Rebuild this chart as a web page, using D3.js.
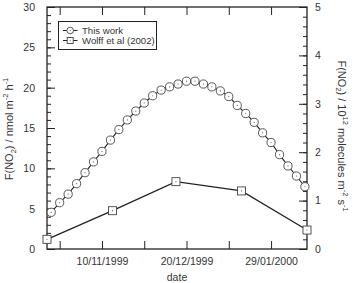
<!DOCTYPE html>
<html><head><meta charset="utf-8">
<script src="https://cdn.jsdelivr.net/npm/d3@7"></script>
<style>
html,body{margin:0;padding:0;background:#fff;}
svg{display:block;font-family:"Liberation Sans",Arial,sans-serif;}
</style></head>
<body><div id="chart"></div>
<script>
const thisWorkDates = ["1999-10-17","1999-10-21","1999-10-25","1999-10-29","1999-11-02","1999-11-06","1999-11-10","1999-11-14","1999-11-18","1999-11-22","1999-11-26","1999-11-30","1999-12-04","1999-12-08","1999-12-12","1999-12-16","1999-12-20","1999-12-24","1999-12-28","2000-01-01","2000-01-05","2000-01-09","2000-01-13","2000-01-17","2000-01-21","2000-01-25","2000-01-29","2000-02-02","2000-02-06","2000-02-10","2000-02-14"];
const thisWorkValues = [4.55,5.74,6.8,8.1,9.46,10.8,12.1,13.5,14.8,16.0,17.1,18.1,19.0,19.7,20.1,20.45,20.8,20.8,20.45,20.1,19.6,18.9,17.8,16.8,15.7,14.4,13.2,11.7,10.3,9.05,7.72];
const wolffDates = ["1999-10-15","1999-11-15","1999-12-15","2000-01-15","2000-02-15"];
const wolffValues = [1.2,4.75,8.35,7.2,2.35];
const xDomain = ["1999-10-15","2000-02-15"];
const xTickDates = ["1999-10-21","1999-11-10","1999-11-30","1999-12-20","2000-01-09","2000-01-29"];
const xTickLabels = {"1999-11-10":"10/11/1999","1999-12-20":"20/12/1999","2000-01-29":"29/01/2000"};
const leftTicks = [0,5,10,15,20,25,30];
const rightTicks = [0,1,2,3,4,5];
const seriesNames = ["This work","Wolff et al (2002)"];

const W=353,H=283;
const m={l:47,r:307,t:7,b:249};
const parse=d3.utcParse("%Y-%m-%d");
const svg=d3.select("#chart").append("svg").attr("width",W).attr("height",H);
const x=d3.scaleUtc().domain(xDomain.map(parse)).range([m.l,m.r]);
const y=d3.scaleLinear().domain([0,30]).range([m.b,m.t]);
const y2=d3.scaleLinear().domain([0,5]).range([m.b,m.t]);
const fs=10.5, col="#222", tcol="#333";

// left axis
svg.append("g").attr("transform",`translate(${m.l},0)`)
  .call(d3.axisLeft(y).tickValues(d3.range(0,31,1)).tickSize(-4).tickFormat(""));
const glM=svg.append("g").attr("transform",`translate(${m.l},0)`)
  .call(d3.axisLeft(y).tickValues(leftTicks).tickSize(-8).tickPadding(12).tickFormat(d3.format("d")));
glM.selectAll("text").attr("font-size",fs).attr("fill",tcol).attr("font-family","Liberation Sans, Arial");
// right axis
svg.append("g").attr("transform",`translate(${m.r},0)`)
  .call(d3.axisRight(y2).tickValues(d3.range(0,5.01,0.2)).tickSize(-4).tickFormat(""));
const grM=svg.append("g").attr("transform",`translate(${m.r},0)`)
  .call(d3.axisRight(y2).tickValues(rightTicks).tickSize(-8).tickPadding(8).tickFormat(d3.format("d")));
grM.selectAll("text").attr("font-size",fs).attr("fill",tcol).attr("font-family","Liberation Sans, Arial");
// bottom axis
const gb=svg.append("g").attr("transform",`translate(0,${m.b})`)
  .call(d3.axisBottom(x).tickValues(xTickDates.map(parse)).tickSize(-8).tickPadding(9)
    .tickFormat(d=>xTickLabels[d3.utcFormat("%Y-%m-%d")(d)]||""));
gb.selectAll("text").attr("font-size",fs).attr("fill",tcol).attr("font-family","Liberation Sans, Arial");
// top axis
svg.append("g").attr("transform",`translate(0,${m.t})`)
  .call(d3.axisTop(x).tickValues(xTickDates.map(parse)).tickSize(-8).tickFormat(""));
svg.selectAll(".domain").remove();
svg.selectAll(".tick line").attr("stroke",col).attr("stroke-width",1);
// frame
svg.append("rect").attr("x",m.l).attr("y",m.t).attr("width",m.r-m.l).attr("height",m.b-m.t)
  .attr("fill","none").attr("stroke",col).attr("stroke-width",1.3);

// lines
const tw=thisWorkDates.map((d,i)=>({d:parse(d),v:thisWorkValues[i]}));
const wf=wolffDates.map((d,i)=>({d:parse(d),v:wolffValues[i]}));
const line=d3.line().x(d=>x(d.d)).y(d=>y(d.v));
svg.append("path").datum(wf).attr("d",line).attr("fill","none").attr("stroke",col).attr("stroke-width",1.3);
svg.append("path").datum(tw).attr("d",line).attr("fill","none").attr("stroke",col).attr("stroke-width",1.1);
// markers
function circleMark(g,cx,cy,r){
  g.append("circle").attr("cx",cx).attr("cy",cy).attr("r",r).attr("fill","#fff").attr("stroke","#444").attr("stroke-width",0.9);
  g.append("circle").attr("cx",cx).attr("cy",cy).attr("r",0.6).attr("fill","#666");
}
function squareMark(g,cx,cy,s){
  g.append("rect").attr("x",cx-s/2).attr("y",cy-s/2).attr("width",s).attr("height",s).attr("fill","#fff").attr("stroke","#444").attr("stroke-width",0.9);
  g.append("circle").attr("cx",cx).attr("cy",cy).attr("r",0.6).attr("fill","#666");
}
const mk=svg.append("g");
tw.forEach(p=>circleMark(mk,x(p.d),y(p.v),4.1));
wf.forEach(p=>squareMark(mk,x(p.d),y(p.v),8));

// legend
const lg=svg.append("g");
lg.append("rect").attr("x",58.5).attr("y",21.5).attr("width",98).attr("height",28).attr("fill","#fff").attr("stroke",col).attr("stroke-width",1);
seriesNames.forEach((n,i)=>{
  const cy=30.5+i*10;
  lg.append("line").attr("x1",63).attr("x2",77.5).attr("y1",cy).attr("y2",cy).attr("stroke",col).attr("stroke-width",1);
  if(i===0) circleMark(lg,70.2,cy,3.3); else squareMark(lg,70.2,cy,6);
  lg.append("text").attr("x",82).attr("y",cy+3.4).attr("font-size",9.6).attr("fill",tcol).text(n);
});

// axis titles
svg.append("text").attr("x",177).attr("y",281).attr("text-anchor","middle").attr("font-size",fs).attr("fill",tcol).text("date");
const lt=svg.append("text").attr("transform","translate(13,129) rotate(-90)").attr("text-anchor","middle").attr("font-size",11).attr("fill",tcol);
lt.append("tspan").text("F(NO");
lt.append("tspan").attr("font-size",7.5).attr("dy",2.5).text("2");
lt.append("tspan").attr("dy",-2.5).text(") / nmol m");
lt.append("tspan").attr("font-size",7.5).attr("dy",-5).text("-2");
lt.append("tspan").attr("dy",5).text(" h");
lt.append("tspan").attr("font-size",7.5).attr("dy",-5).text("-1");
const rt=svg.append("text").attr("transform","translate(338,136) rotate(90)").attr("text-anchor","middle").attr("font-size",11).attr("fill",tcol);
rt.append("tspan").text("F(NO");
rt.append("tspan").attr("font-size",7.5).attr("dy",2.5).text("2");
rt.append("tspan").attr("dy",-2.5).text(") / 10");
rt.append("tspan").attr("font-size",7.5).attr("dy",-5).text("12");
rt.append("tspan").attr("dy",5).text(" molecules m");
rt.append("tspan").attr("font-size",7.5).attr("dy",-5).text("-2");
rt.append("tspan").attr("dy",5).text(" s");
rt.append("tspan").attr("font-size",7.5).attr("dy",-5).text("-1");
</script></body></html>
